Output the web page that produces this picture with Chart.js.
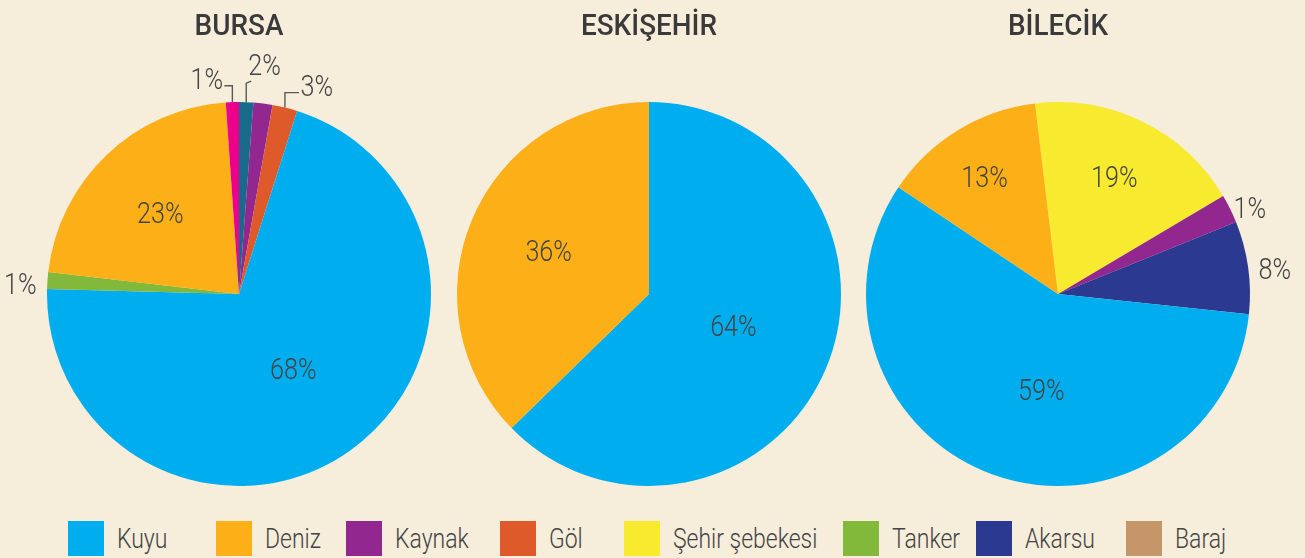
<!DOCTYPE html>
<html lang="tr">
<head>
<meta charset="utf-8">
<script src="https://cdn.jsdelivr.net/npm/chart.js@4.4.1/dist/chart.umd.min.js"></script>
<style>
  html, body { margin: 0; padding: 0; }
  body { width: 1305px; height: 558px; overflow: hidden; position: relative; background: #f6eddb;
         font-family: Roboto, sans-serif; }
  canvas.pie { position: absolute; left: 0; top: 0; }
  .lg { position: absolute; top: 521px; height: 35px; display: flex; align-items: center; white-space: nowrap; }
  .lg i { display: block; width: 36px; height: 35px; margin-right: 13px; flex: none; }
  .lg span { display: inline-block; font-size: 28px; font-weight: 300; color: #444; line-height: 35px;
             transform: scaleX(0.82); transform-origin: 0 50%; }
</style>
</head>
<body>
<canvas id="c0" class="pie" width="1305" height="510"></canvas>
<canvas id="c1" class="pie" width="1305" height="510"></canvas>
<canvas id="c2" class="pie" width="1305" height="510"></canvas>
<div id="legend"></div>
<script>
// ---------- DATA ----------
const legendCategories = ['Kuyu', 'Deniz', 'Kaynak', 'Göl', 'Şehir şebekesi', 'Tanker', 'Akarsu', 'Baraj'];

const bursaCategories = ['Diğer (mavi-yeşil)', 'Kaynak', 'Göl', 'Kuyu', 'Tanker', 'Deniz', 'Diğer (pembe)'];
const bursaValues     = [1.2, 1.6, 2.1, 70.6, 1.4, 22.1, 1.1];
const bursaLabels     = ['2%', '', '3%', '68%', '1%', '23%', '1%'];

const eskisehirCategories = ['Kuyu', 'Deniz'];
const eskisehirValues     = [62.7, 37.3];
const eskisehirLabels     = ['64%', '36%'];

const bilecikCategories = ['Şehir şebekesi', 'Kaynak', 'Akarsu', 'Kuyu', 'Deniz'];
const bilecikValues     = [18.4, 2.4, 7.8, 57.7, 13.7];
const bilecikLabels     = ['19%', '1%', '8%', '59%', '13%'];

const chartTitles = ['BURSA', 'ESKİŞEHİR', 'BİLECİK'];

// ---------- STYLE ----------
const colorMap = {
  'Kuyu': '#00aeef', 'Deniz': '#fcaf17', 'Kaynak': '#92278f', 'Göl': '#df5a2b',
  'Şehir şebekesi': '#f8eb2f', 'Tanker': '#82b93a', 'Akarsu': '#2b3990', 'Baraj': '#c4966a',
  'Diğer (mavi-yeşil)': '#176a8c', 'Diğer (pembe)': '#ec008c'
};
const FONT = "Roboto, sans-serif";
const TEXT = '#444444';
const SQUEEZE = 0.84;

function squeezedText(ctx, t, x, y, sx) {
  ctx.save();
  ctx.translate(x, y);
  ctx.scale(sx, 1);
  ctx.fillText(t, 0, 0);
  ctx.restore();
}

const labelPlugin = {
  id: 'sliceLabels',
  afterDatasetsDraw(chart, args, opts) {
    const meta = chart.getDatasetMeta(0);
    const ctx = chart.ctx;
    const area = chart.chartArea;
    ctx.save();
    // title
    ctx.font = `500 30px ${FONT}`;
    ctx.fillStyle = '#3a3a3a';
    ctx.textAlign = 'center';
    ctx.textBaseline = 'alphabetic';
    squeezedText(ctx, opts.title, (area.left + area.right) / 2, 35, 0.93);
    // slice labels
    ctx.font = `300 ${opts.size}px ${FONT}`;
    ctx.fillStyle = TEXT;
    ctx.strokeStyle = '#5a5a5a';
    ctx.lineWidth = 1.4;
    meta.data.forEach((arc, i) => {
      const t = opts.texts[i];
      if (!t) return;
      const p = opts.place[i] || {};
      const a = arc.getProps(['x', 'y', 'startAngle', 'endAngle', 'outerRadius'], true);
      const mid = (a.startAngle + a.endAngle) / 2 + (p.da || 0) * Math.PI / 180;
      let tx, ty, align = 'center';
      if (p.leader) {
        const px = a.x + Math.cos(mid) * a.outerRadius;
        const py = a.y + Math.sin(mid) * a.outerRadius;
        ctx.beginPath();
        ctx.moveTo(px, py);
        let ex = px, ey = py;
        p.leader.forEach(([dx, dy]) => { ex = px + dx; ey = py + dy; ctx.lineTo(ex, ey); });
        ctx.stroke();
        tx = ex + p.dx; ty = ey + p.dy; align = p.align;
      } else {
        const r = a.outerRadius * p.r;
        tx = a.x + Math.cos(mid) * r;
        ty = a.y + Math.sin(mid) * r;
      }
      ctx.textAlign = align;
      ctx.textBaseline = 'alphabetic';
      squeezedText(ctx, t, tx, ty + opts.size * 0.355, SQUEEZE);
    });
    ctx.restore();
  }
};

const centersX = [239, 649, 1058];
const placements = [
  [ {leader: [[0, -19], [5, -21]], dx: -3, dy: -16.6, align: 'left'},
    {},
    {leader: [[0, -15], [14, -15]], dx: 1.5, dy: -7.5, align: 'left'},
    {r: 0.48, da: -0.7},
    {r: 1.14, da: -1.15},
    {r: 0.59, da: -0.3},
    {leader: [[0, -16.4], [-8, -16.4]], dx: -1.3, dy: -7.7, align: 'right'} ],
  [ {r: 0.47, da: -2.2}, {r: 0.57, da: 0.7} ],
  [ {r: 0.68, da: -0.7}, {r: 1.095, da: 2.1}, {r: 1.137, da: 1.2}, {r: 0.505, da: -10}, {r: 0.72, da: -0.5} ]
];
const rotations = [0, 0, -6.9];
const sets = [
  [bursaCategories, bursaValues, bursaLabels],
  [eskisehirCategories, eskisehirValues, eskisehirLabels],
  [bilecikCategories, bilecikValues, bilecikLabels]
];

sets.forEach(([cats, vals, texts], k) => {
  const cx = centersX[k];
  new Chart(document.getElementById('c' + k), {
    type: 'pie',
    data: {
      labels: cats,
      datasets: [{
        data: vals,
        backgroundColor: cats.map(c => colorMap[c]),
        borderWidth: 0,
        radius: 192
      }]
    },
    options: {
      responsive: false,
      animation: false,
      rotation: rotations[k],
      layout: { padding: { left: cx - 200, right: 1305 - cx - 200, top: 94, bottom: 16 } },
      plugins: {
        legend: { display: false },
        tooltip: { enabled: false },
        title: { display: false },
        sliceLabels: { texts: texts, place: placements[k], size: 30, title: chartTitles[k] }
      }
    },
    plugins: [labelPlugin]
  });
});

// ---------- LEGEND ----------
const legendLeft = [68, 216, 346, 500, 624, 843, 976, 1126];
const lg = document.getElementById('legend');
legendCategories.forEach((c, i) => {
  const d = document.createElement('div');
  d.className = 'lg';
  d.style.left = legendLeft[i] + 'px';
  const sq = document.createElement('i');
  sq.style.background = colorMap[c];
  const s = document.createElement('span');
  s.textContent = c;
  d.appendChild(sq); d.appendChild(s);
  lg.appendChild(d);
});
</script>
</body>
</html>
